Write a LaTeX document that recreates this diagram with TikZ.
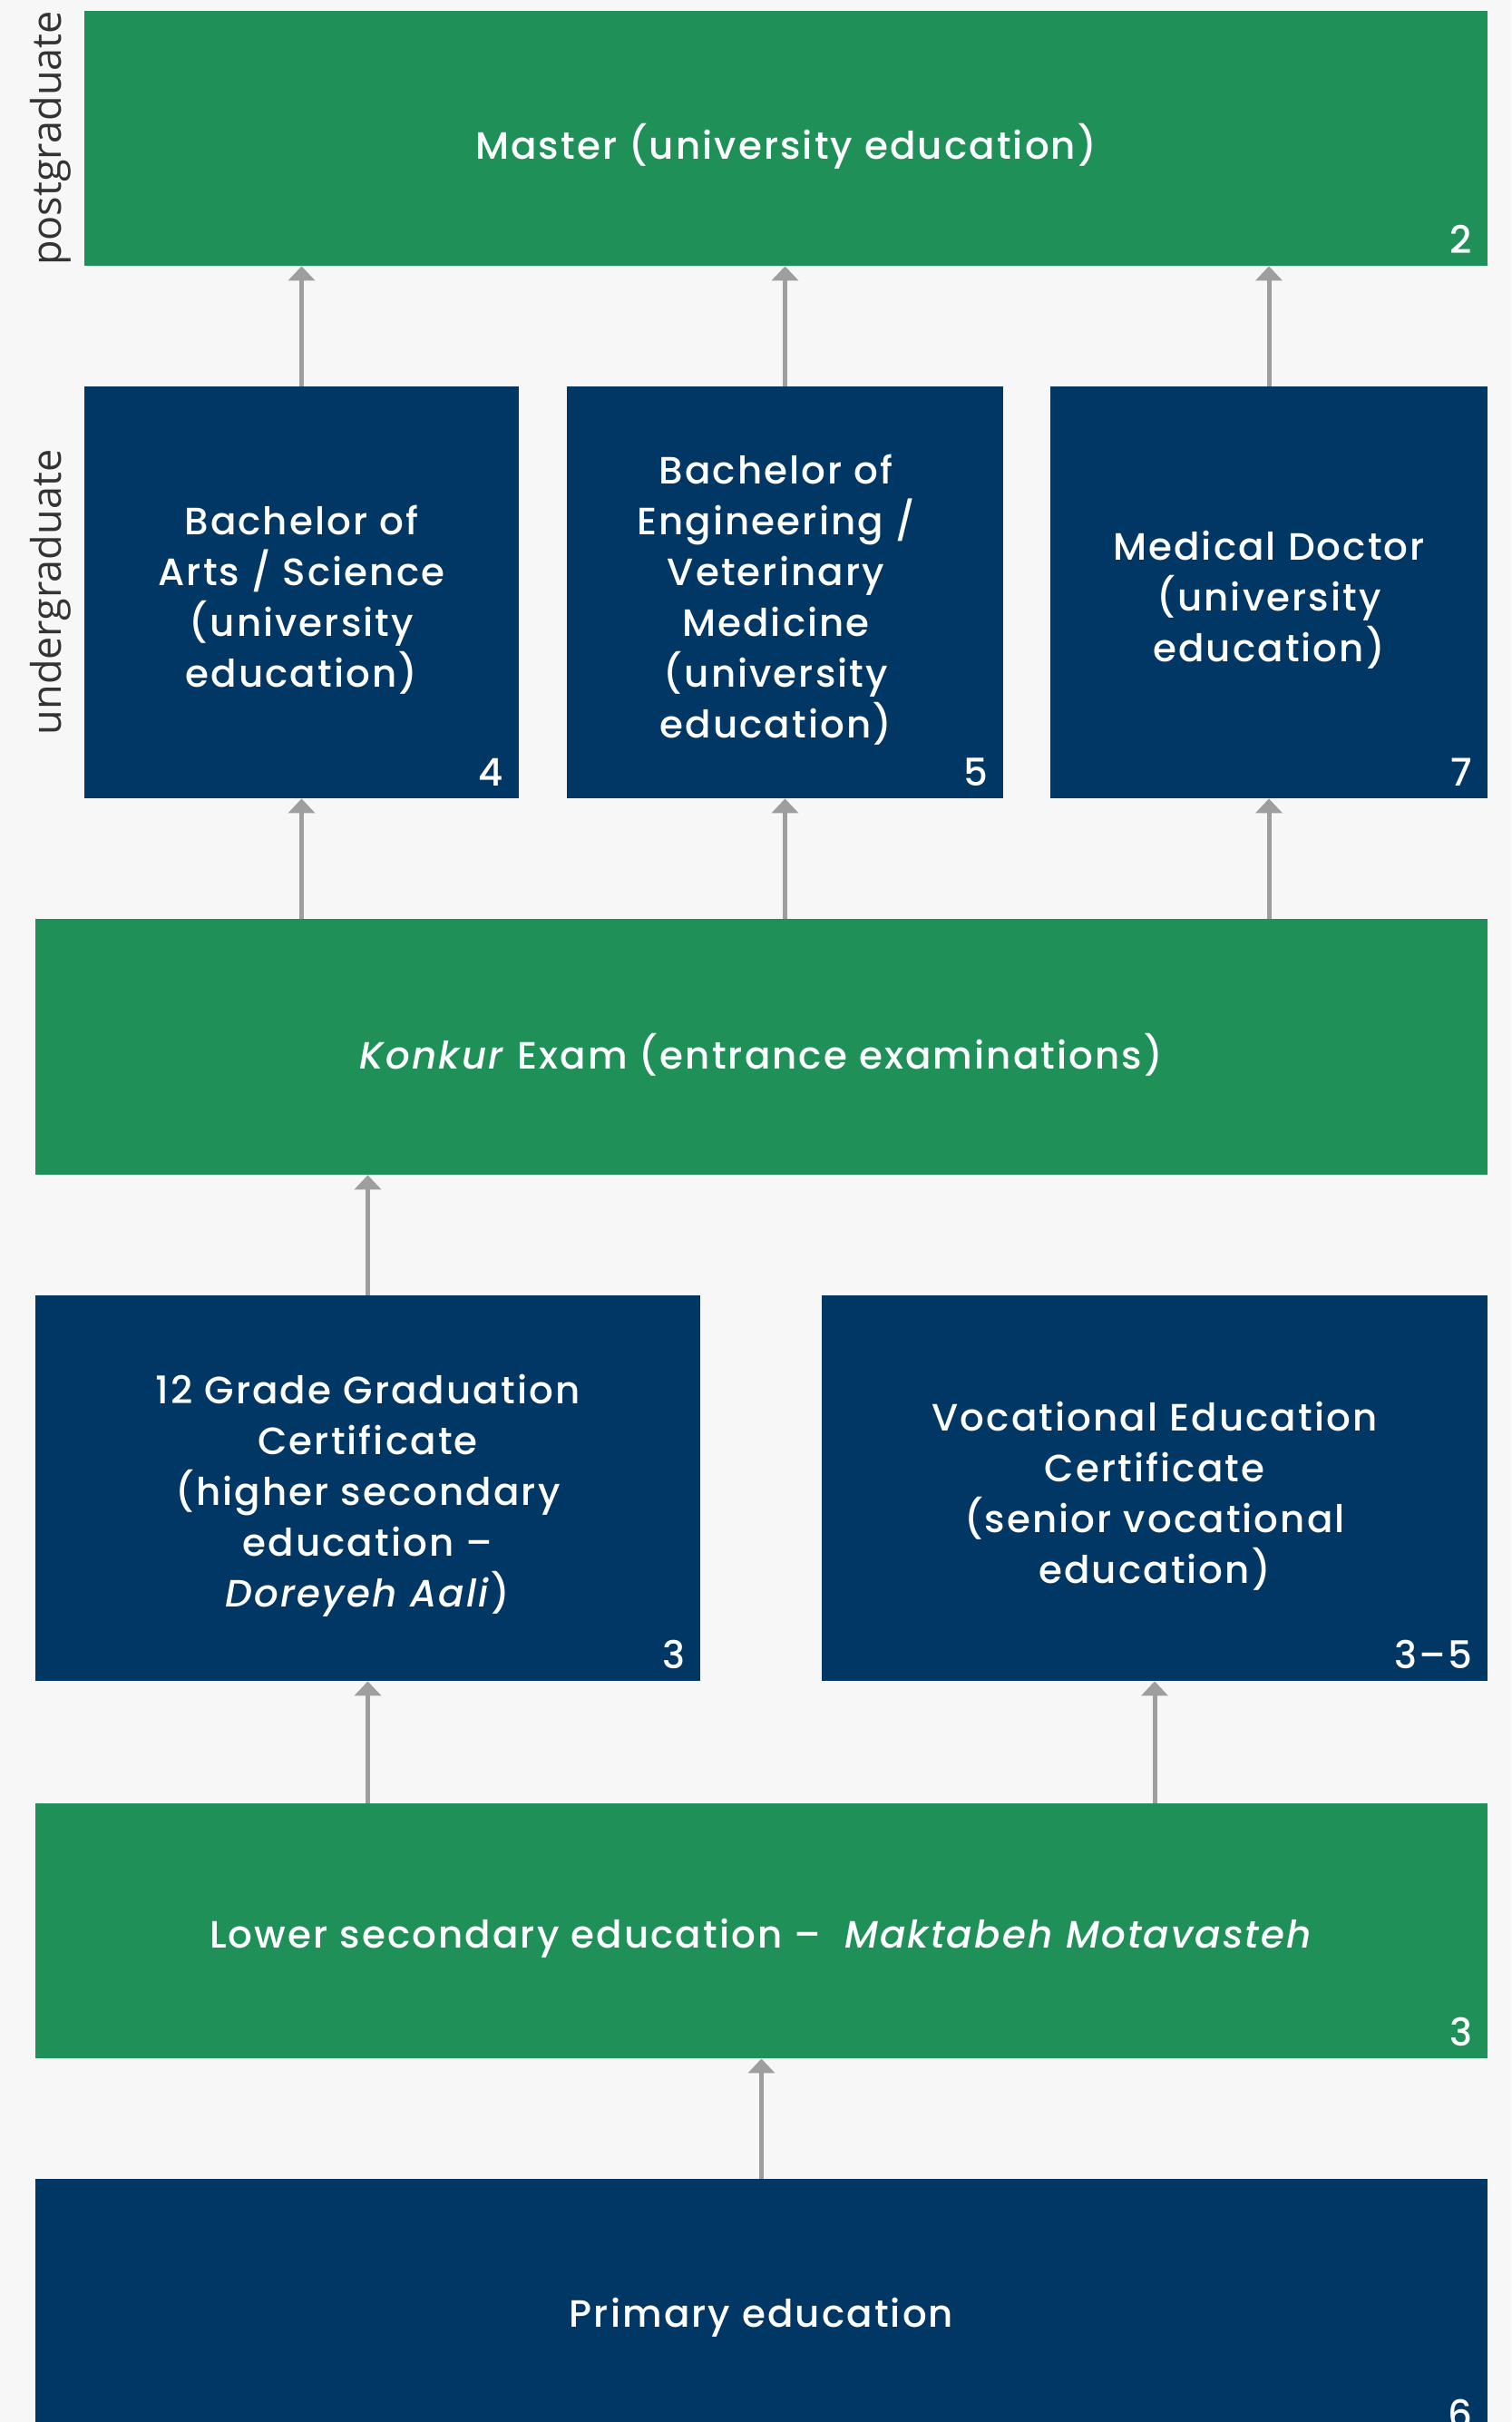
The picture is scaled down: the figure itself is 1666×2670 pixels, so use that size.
\documentclass[tikz,border=0pt]{standalone}
\usepackage{fontspec}
\IfFontExistsTF{Poppins Medium}
  {\setmainfont{Poppins Medium}[LetterSpace=5, ItalicFont={Poppins Medium Italic}]}
  {\setmainfont{Poppins}[LetterSpace=5]}
\newfontfamily\sidefont{Open Sans}
\usepackage{xcolor}
\usepackage{tikz}
\usetikzlibrary{arrows.meta}

\definecolor{eduGreen}{HTML}{1F9058}
\definecolor{eduNavy}{HTML}{003764}
\definecolor{pageGray}{HTML}{F7F7F7}
\definecolor{arrowGray}{HTML}{9E9E9E}
\definecolor{labelGray}{HTML}{333333}

\begin{document}
\begin{tikzpicture}[x=0.5pt, y=-0.5pt, >={Triangle[width=14.5pt, length=8pt]},
    box/.style={rectangle, inner sep=0pt},
    greenbox/.style={box, fill=eduGreen},
    navybox/.style={box, fill=eduNavy},
    boxtext/.style={inner sep=0pt, text=white, align=center, yshift=-4.25pt, font=\fontsize{21}{28}\selectfont},
    years/.style={anchor=base east, inner sep=0pt, text=white, font=\fontsize{21}{28}\selectfont},
    level/.style={rotate=90, inner sep=0pt, text=labelGray, font=\sidefont\fontsize{22.5}{26}\selectfont},
    up/.style={->, draw=arrowGray, line width=2.5pt}]
    \useasboundingbox (0,0) rectangle (1666,2670);
    \clip (0,0) rectangle (1666,2670);
    \fill[pageGray] (0,0) rectangle (1666,2670);

    \node[level] (post) at (56,152.5) {postgraduate};
    \node[level] (under) at (56,653) {undergraduate};

    \node[greenbox, minimum width=773.5pt, minimum height=140.5pt,
        label={[boxtext, name=masterText]center:{Master (university education)}}] (master) at (866.5,152.5) {};
    \node[navybox, minimum width=239.5pt, minimum height=227pt,
        label={[boxtext, name=artsText]center:{Bachelor of\\Arts / Science\\(university\\education)}}] (arts) at (332.5,653) {};
    \node[navybox, minimum width=240.5pt, minimum height=227pt,
        label={[boxtext, name=engText, xshift=-5pt]center:{Bachelor of\\Engineering /\\Veterinary\\Medicine\\(university\\education)}}] (eng) at (865.5,653) {};
    \node[navybox, minimum width=241pt, minimum height=227pt,
        label={[boxtext, name=medText]center:{Medical Doctor\\(university\\education)}}] (med) at (1399,653) {};
    \node[greenbox, minimum width=800.5pt, minimum height=141pt,
        label={[boxtext, name=konkurText]center:{\textit{Konkur} Exam (entrance examinations)}}] (konkur) at (839.5,1154) {};
    \node[navybox, minimum width=366.5pt, minimum height=212.5pt,
        label={[boxtext, name=gradeText]center:{12 Grade Graduation\\Certificate\\(higher secondary\\education --\\\textit{Doreyeh Aali})}}] (grade) at (405.5,1640.5) {};
    \node[navybox, minimum width=367pt, minimum height=212.5pt,
        label={[boxtext, name=vocText]center:{Vocational Education\\Certificate\\(senior vocational\\education)}}] (voc) at (1273,1640.5) {};
    \node[greenbox, minimum width=800.5pt, minimum height=140.5pt,
        label={[boxtext, name=lowerText]center:{Lower secondary education -- \ \textit{Maktabeh Motavasteh}}}] (lower) at (839.5,2128.5) {};
    \node[navybox, minimum width=800.5pt, minimum height=144pt,
        label={[boxtext, name=primaryText]center:{Primary education}}] (primary) at (839.5,2546) {};

    \node[years] (masterYrs) at ([shift={(-8.5pt,7pt)}]master.south east) {2};
    \node[years] (artsYrs) at ([shift={(-8.5pt,7pt)}]arts.south east) {4};
    \node[years] (engYrs) at ([shift={(-8.5pt,7pt)}]eng.south east) {5};
    \node[years] (medYrs) at ([shift={(-8.5pt,7pt)}]med.south east) {7};
    \node[years] (gradeYrs) at ([shift={(-8.5pt,7pt)}]grade.south east) {3};
    \node[years] (vocYrs) at ([shift={(-8.5pt,7pt)}]voc.south east) {3--5};
    \node[years] (lowerYrs) at ([shift={(-8.5pt,7pt)}]lower.south east) {3};
    \node[years] (primaryYrs) at ([shift={(-8.5pt,7pt)}]primary.south east) {6};

    \draw[up] (arts.north) -- (arts.north |- master.south);
    \draw[up] (eng.north) -- (eng.north |- master.south);
    \draw[up] (med.north) -- (med.north |- master.south);
    \draw[up] (arts.south |- konkur.north) -- (arts.south);
    \draw[up] (eng.south |- konkur.north) -- (eng.south);
    \draw[up] (med.south |- konkur.north) -- (med.south);
    \draw[up] (grade.north) -- (grade.north |- konkur.south);
    \draw[up] (grade.south |- lower.north) -- (grade.south);
    \draw[up] (voc.south |- lower.north) -- (voc.south);
    \draw[up] (primary.north) -- (lower.south);
\end{tikzpicture}
\end{document}
